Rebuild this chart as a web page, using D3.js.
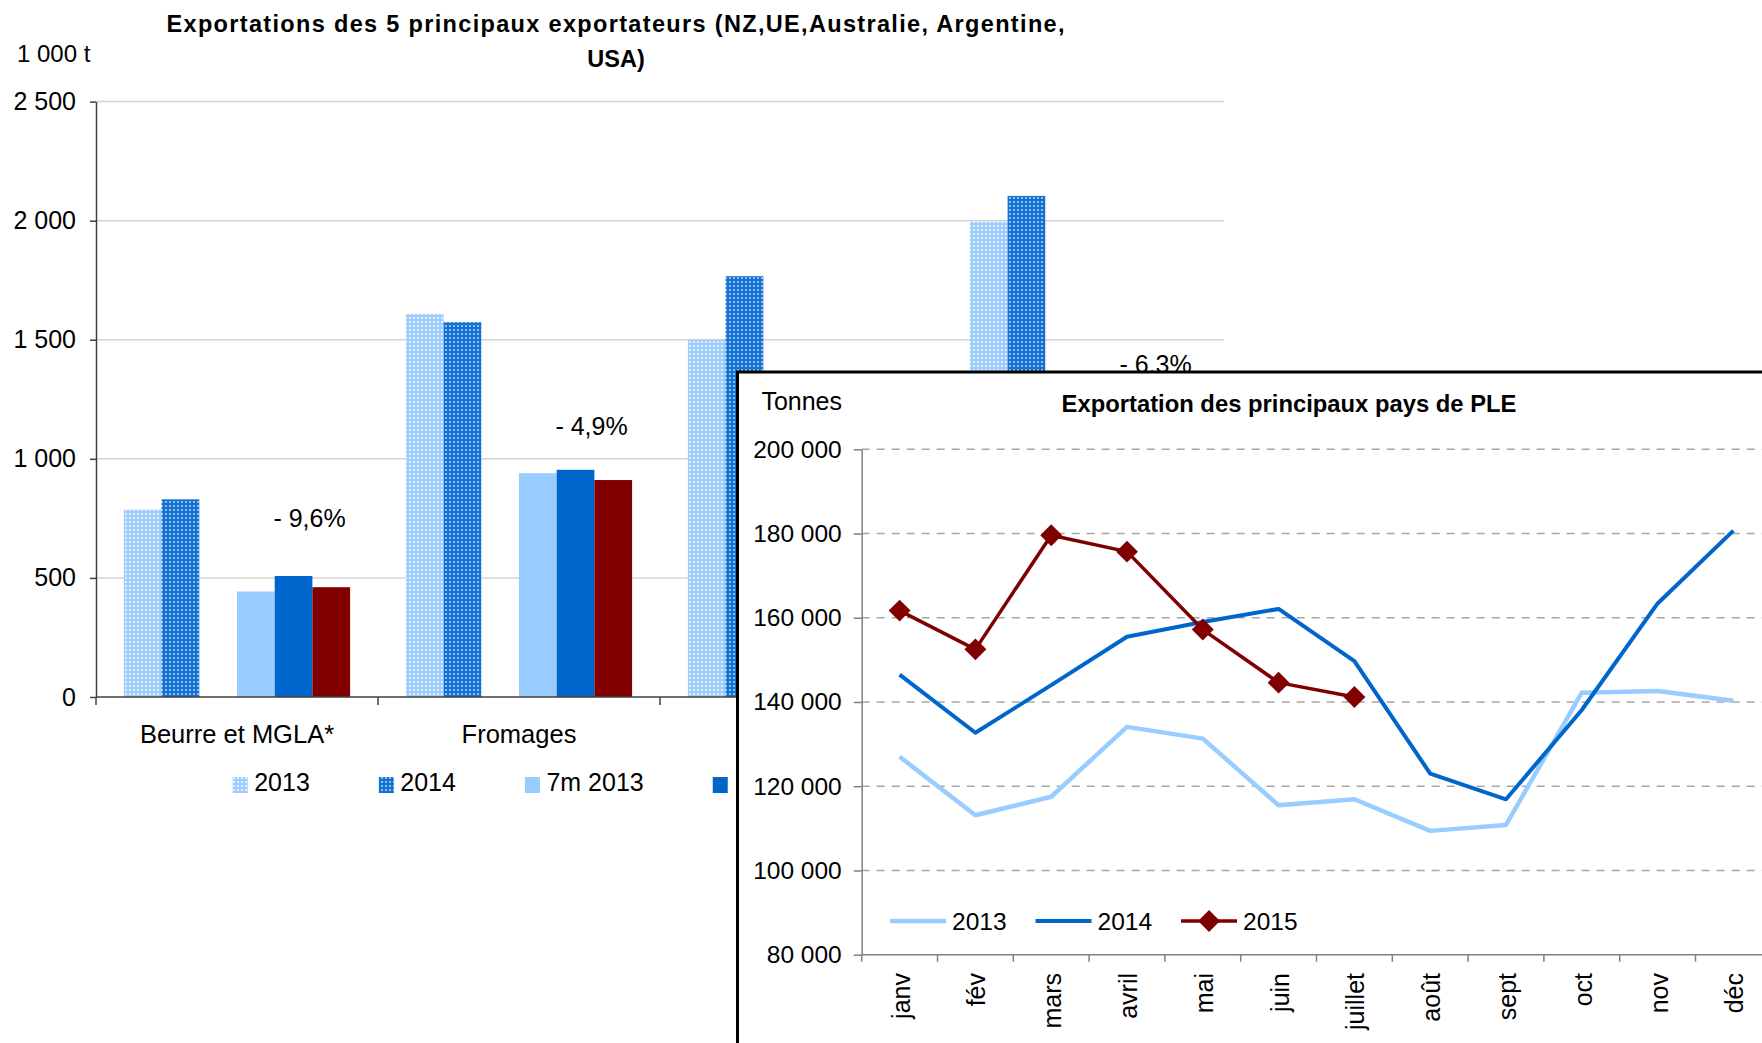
<!DOCTYPE html>
<html><head><meta charset="utf-8">
<script src="https://cdn.jsdelivr.net/npm/d3@7"></script>
<style>
body{margin:0;background:#fff}
svg{display:block}
text{font-family:Arial,"Liberation Sans",sans-serif;fill:#000}
</style>
</head><body>
<svg id="c" width="1762" height="1043"></svg>
<script>
// ---------- Bar chart data (1 000 t) ----------
const barCategories = ["Beurre et MGLA*", "Fromages", "PLE", "PLG"];
const barSeriesNames = ["2013", "2014", "7m 2013", "7m 2014", "7m 2015"];
const bar2013   = [787, 1608, 1500, 1995];
const bar2014   = [830, 1574, 1767, 2104];
const bar7m2013 = [443, 940, 880, 1150];
const bar7m2014 = [508, 954, 1040, 1250];
const bar7m2015 = [461, 911, 1000, 1171];
const barTicks  = [0, 500, 1000, 1500, 2000, 2500];
const barTitle  = ["Exportations des 5 principaux exportateurs (NZ,UE,Australie, Argentine,", "USA)"];
const barUnit   = "1 000 t";
// annotations: category, value level (in 1 000 t), text
const annotCats   = ["Beurre et MGLA*", "Fromages", "PLG"];
const annotLevels = [714, 1100, 1360];
const annotTexts  = ["- 9,6%", "- 4,9%", "- 6,3%"];

// ---------- Line chart data (tonnes) ----------
const months = ["janv","fév","mars","avril","mai","juin","juillet","août","sept","oct","nov","déc"];
const line2013 = [127000,113100,117500,134100,131300,115500,116900,109400,110800,142200,142600,140300];
const line2014 = [146500,132700,144000,155500,159000,162100,149700,123000,116900,138100,163400,180700];
const line2015 = [161700,152500,179600,175700,157200,144600,141200];
const lineSeriesNames = ["2013","2014","2015"];
const lineTicks = [80000,100000,120000,140000,160000,180000,200000];
const lineTitle = "Exportation des principaux pays de PLE";
const lineUnit = "Tonnes";

// ---------- setup ----------
const svg = d3.select("#c");
const loc = d3.formatLocale({decimal:",", thousands:"\u00a0", grouping:[3], currency:["",""]});
const fmt = loc.format(",d");
const insetLeft = 737.5, insetTop = 372;

const defs = svg.append("defs");
function dotPattern(id, base, dot){
  const p = defs.append("pattern").attr("id", id).attr("patternUnits","userSpaceOnUse")
    .attr("width",4).attr("height",4);
  p.append("rect").attr("width",4).attr("height",4).attr("fill",base);
  p.append("rect").attr("x",1).attr("y",1).attr("width",2).attr("height",2).attr("fill",dot);
}
dotPattern("p2013", "#9ECDFB", "#DCEEFF");
dotPattern("p2014", "#1470D2", "#8EC0EE");

const barFill = {"2013":"url(#p2013)","2014":"url(#p2014)","7m 2013":"#99CCFF","7m 2014":"#0066CC","7m 2015":"#800000"};
const barValues = {"2013":bar2013,"2014":bar2014,"7m 2013":bar7m2013,"7m 2014":bar7m2014,"7m 2015":bar7m2015};

// ---------- Bar chart ----------
const gB = svg.append("g");
const xB = d3.scaleBand().domain(barCategories).range([96,1224]);
const slots = ["2013","2014","_gap","7m 2013","7m 2014","7m 2015"];
const xS = d3.scaleBand().domain(slots).range([0, xB.bandwidth()]).paddingOuter(0.74).paddingInner(0);
const yB = d3.scaleLinear().domain([0,2500]).range([697,101.6]);

// gridlines
gB.append("g").selectAll("line").data(barTicks.filter(d=>d>0)).join("line")
  .attr("x1",96).attr("x2",1224).attr("y1",d=>yB(d)).attr("y2",d=>yB(d))
  .attr("stroke","#D4D4D4").attr("stroke-width",1.5);

// bars
barSeriesNames.forEach(s=>{
  gB.append("g").selectAll("rect").data(barCategories).join("rect")
    .attr("x",(c)=>xB(c)+xS(s))
    .attr("width",xS.bandwidth())
    .attr("y",(c,i)=>yB(barValues[s][i]))
    .attr("height",(c,i)=>yB(0)-yB(barValues[s][i]))
    .attr("fill",barFill[s]);
});

// y axis
const yAx = gB.append("g").attr("transform","translate(96,0)")
  .call(d3.axisLeft(yB).tickValues(barTicks).tickSize(6).tickSizeOuter(0).tickPadding(14).tickFormat(fmt));
yAx.select(".domain").attr("stroke","#404040").attr("stroke-width",1.5);
yAx.selectAll(".tick line").attr("stroke","#404040").attr("stroke-width",1.5);
yAx.selectAll("text").style("font-size","25px").attr("fill","#000");

// x axis
gB.append("line").attr("x1",96).attr("x2",1224).attr("y1",yB(0)).attr("y2",yB(0))
  .attr("stroke","#404040").attr("stroke-width",1.5);
const bounds = barCategories.map(c=>xB(c)).concat([xB(barCategories[barCategories.length-1])+xB.bandwidth()]);
gB.append("g").selectAll("line").data(bounds).join("line")
  .attr("x1",d=>d).attr("x2",d=>d).attr("y1",yB(0)).attr("y2",yB(0)+8)
  .attr("stroke","#404040").attr("stroke-width",1.5);
gB.append("g").selectAll("text").data(barCategories).join("text")
  .attr("x",c=>xB(c)+xB.bandwidth()/2).attr("y",742.5)
  .attr("text-anchor","middle").style("font-size","25.5px").text(c=>c);

// annotations
gB.append("g").selectAll("text").data(annotTexts).join("text")
  .attr("x",(t,i)=>xB(annotCats[i])+xS("7m 2014")+xS.bandwidth()/2+16)
  .attr("y",(t,i)=>yB(annotLevels[i]))
  .attr("text-anchor","middle").style("font-size","25px").text(t=>t);

// title & unit
gB.append("text").attr("x",615.5).attr("y",32.3).attr("text-anchor","middle")
  .style("font-size","23.5px").style("font-weight","bold")
  .attr("textLength",898).attr("lengthAdjust","spacing").text(barTitle[0]);
gB.append("text").attr("x",616).attr("y",66.5).attr("text-anchor","middle")
  .style("font-size","23.5px").style("font-weight","bold").text(barTitle[1]);
gB.append("text").attr("x",17).attr("y",62.3).style("font-size","24px").text(barUnit);

// legend (texts that would sit entirely under the inset are not drawn)
let lx = 232.7;
const gL = gB.append("g");
barSeriesNames.forEach(s=>{
  gL.append("rect").attr("x",lx).attr("y",777).attr("width",15).attr("height",16).attr("fill",barFill[s]);
  let w = 60;
  if (lx + 21.5 + 10 < insetLeft) {
    const t = gL.append("text").attr("x",lx+21.5).attr("y",790.7).style("font-size","25px").text(s);
    w = t.node().getComputedTextLength();
  }
  lx = lx + 21.5 + w + 69;
});

// ---------- Inset line chart ----------
const gI = svg.append("g");
gI.append("rect").attr("x",insetLeft).attr("y",insetTop).attr("width",1100).attr("height",800)
  .attr("fill","#fff").attr("stroke","#000").attr("stroke-width",3);

const xL = d3.scaleBand().domain(months).range([861.7, 861.7+12*75.8]);
const yL = d3.scaleLinear().domain([80000,200000]).range([954.7,449.3]);

gI.append("g").selectAll("line").data(lineTicks.filter(d=>d>80000)).join("line")
  .attr("x1",861.7).attr("x2",1762).attr("y1",d=>yL(d)).attr("y2",d=>yL(d))
  .attr("stroke","#A6A6A6").attr("stroke-width",1.5).attr("stroke-dasharray","8,7");

const yAxL = gI.append("g").attr("transform","translate(861.7,0)")
  .call(d3.axisLeft(yL).tickValues(lineTicks).tickSize(8).tickSizeOuter(0).tickPadding(12).tickFormat(fmt));
yAxL.select(".domain").attr("stroke","#808080").attr("stroke-width",1.5);
yAxL.selectAll(".tick line").attr("stroke","#808080").attr("stroke-width",1.5);
yAxL.selectAll("text").style("font-size","24.5px").attr("fill","#000");

gI.append("line").attr("x1",861.7).attr("x2",1771).attr("y1",yL(80000)).attr("y2",yL(80000))
  .attr("stroke","#808080").attr("stroke-width",1.5);
const mBounds = months.map(m=>xL(m));
gI.append("g").selectAll("line").data(mBounds).join("line")
  .attr("x1",d=>d).attr("x2",d=>d).attr("y1",yL(80000)).attr("y2",yL(80000)+7)
  .attr("stroke","#808080").attr("stroke-width",1.5);
gI.append("g").selectAll("text").data(months).join("text")
  .attr("transform",m=>`translate(${xL(m)+xL.bandwidth()/2+10},973) rotate(-90)`)
  .attr("text-anchor","end").style("font-size","25px").text(m=>m);

const lineGen = d3.line().x((d,i)=>xL(months[i])+xL.bandwidth()/2).y(d=>yL(d));
gI.append("path").datum(line2013).attr("d",lineGen).attr("fill","none")
  .attr("stroke","#99CCFF").attr("stroke-width",4.5).attr("stroke-linejoin","round");
gI.append("path").datum(line2014).attr("d",lineGen).attr("fill","none")
  .attr("stroke","#0066CC").attr("stroke-width",4).attr("stroke-linejoin","round");
gI.append("path").datum(line2015).attr("d",lineGen).attr("fill","none")
  .attr("stroke","#800000").attr("stroke-width",3.5).attr("stroke-linejoin","round");
const diamond = d3.symbol().type(d3.symbolSquare).size(240);
gI.append("g").selectAll("path").data(line2015).join("path")
  .attr("transform",(d,i)=>`translate(${xL(months[i])+xL.bandwidth()/2},${yL(d)}) rotate(45)`)
  .attr("d",diamond).attr("fill","#800000");

gI.append("text").attr("x",842).attr("y",410).attr("text-anchor","end").style("font-size","25px").text(lineUnit);
gI.append("text").attr("x",1289).attr("y",411.5).attr("text-anchor","middle")
  .style("font-size","23.8px").style("font-weight","bold").text(lineTitle);

// line legend
const lineColors = {"2013":"#99CCFF","2014":"#0066CC","2015":"#800000"};
const lineWidths = {"2013":4.5,"2014":4,"2015":3.5};
let llx = 890;
lineSeriesNames.forEach(s=>{
  gI.append("line").attr("x1",llx).attr("x2",llx+56).attr("y1",921).attr("y2",921)
    .attr("stroke",lineColors[s]).attr("stroke-width",lineWidths[s]);
  if(s==="2015"){
    gI.append("path").attr("transform",`translate(${llx+28},921) rotate(45)`).attr("d",diamond).attr("fill","#800000");
  }
  const t = gI.append("text").attr("x",llx+62).attr("y",929.5).style("font-size","24.5px").text(s);
  llx = llx + 62 + t.node().getComputedTextLength() + 29;
});
</script>
</body></html>
